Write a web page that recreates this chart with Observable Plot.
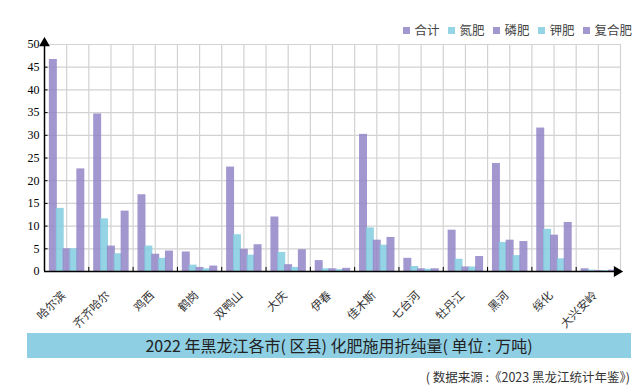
<!DOCTYPE html>
<html><head><meta charset="utf-8">
<script src="https://cdn.jsdelivr.net/npm/d3@7"></script>
<script src="https://cdn.jsdelivr.net/npm/@observablehq/plot@0.6"></script>
<style>
body{margin:0;background:#fff;width:642px;height:392px;overflow:hidden;font-family:"Noto Sans CJK SC",sans-serif;}
#legend{height:37px;display:flex;justify-content:flex-end;align-items:flex-end;padding-right:10px;box-sizing:border-box;font-size:12.5px;color:#444;line-height:14px;}
#legend .item{display:flex;align-items:center;margin-left:9px;}
#legend .sw{width:7px;height:7px;margin-right:4px;}
#chart{height:294px;}
#band{margin:2px 11px 0 27px;height:25px;background:#8ECFE4;color:#222;font-size:16px;line-height:25px;text-align:center;padding-left:20px;box-sizing:border-box;}
#caption{margin-top:11px;text-align:right;padding-right:12px;font-size:12.5px;color:#333;line-height:16px;}
</style></head>
<body>
<div id="legend"></div>
<div id="chart"></div>
<div id="band">2022 年黑龙江各市( 区县) 化肥施用折纯量( 单位 : 万吨)</div>
<div id="caption">( 数据来源 :《2023 黑龙江统计年鉴》)</div>
<script>
const cities = ["哈尔滨","齐齐哈尔","鸡西","鹤岗","双鸭山","大庆","伊春","佳木斯","七台河","牡丹江","黑河","绥化","大兴安岭"];
const seriesNames = ["合计","氮肥","磷肥","钾肥","复合肥"];
const total     = [46.7, 34.7, 16.9, 4.3, 23.0, 12.0, 2.4, 30.2, 2.9, 9.1, 23.8, 31.6, 0.6];
const nitrogen  = [13.9, 11.6, 5.6, 1.4, 8.1, 4.2, 0.6, 9.6, 1.1, 2.7, 6.4, 9.3, 0.3];
const phosphate = [5.0, 5.6, 3.8, 0.9, 4.9, 1.5, 0.6, 6.9, 0.6, 1.0, 6.9, 8.0, 0.2];
const potash    = [5.0, 3.9, 2.9, 0.6, 3.6, 0.9, 0.4, 5.8, 0.5, 1.0, 3.5, 2.8, 0.2];
const compound  = [22.6, 13.3, 4.5, 1.2, 5.9, 4.8, 0.7, 7.5, 0.6, 3.3, 6.6, 10.8, 0.3];
const yTicks = [0,5,10,15,20,25,30,35,40,45,50];

const purple = "#9385C8", blue = "#82CCE0";
const seriesColors = [purple, blue, purple, blue, purple];
const seriesValues = [total, nitrogen, phosphate, potash, compound];

// legend
const lg = document.getElementById("legend");
seriesNames.forEach((n, j) => {
  const it = document.createElement("div"); it.className = "item";
  const sw = document.createElement("div"); sw.className = "sw";
  sw.style.background = seriesColors[j]; sw.style.opacity = 0.85;
  it.appendChild(sw); it.appendChild(document.createTextNode(n));
  lg.appendChild(it);
});

const rows = seriesNames.flatMap((s, j) => cities.map((c, i) => ({city: c, i, j, series: s, value: seriesValues[j][i]})));
const barStart = 0.11, barStep = 0.155, barWidth = 0.18;

const plot = Plot.plot({
  width: 642, height: 294,
  marginTop: 7, marginBottom: 60, marginLeft: 44, marginRight: 22,
  x: {domain: [0, 13], axis: null},
  y: {domain: [0, 50], label: null},
  color: {domain: seriesNames, range: seriesColors},
  style: {fontFamily: "'Liberation Serif', serif", fontSize: "12px", color: "#000", background: "#fff"},
  marks: [
    Plot.ruleY(yTicks.slice(1), {stroke: "#d2d2d2", strokeWidth: 1.2}),
    Plot.ruleX(d3.range(1, 27).map(k => k / 2), {stroke: "#d2d2d2", strokeWidth: 1.2}),
    Plot.rectY(rows, {x1: d => d.i + barStart + d.j * barStep, x2: d => d.i + barStart + d.j * barStep + barWidth, y: "value", fill: "series", fillOpacity: 0.85}),
    Plot.ruleY(yTicks.slice(1), {x1: 0, x2: 0.08, stroke: "#000"}),
    Plot.ruleX(d3.range(1, 13), {y1: 0, y2: 0.9, stroke: "#000"}),
    Plot.ruleY([0], {x1: 0, x2: 12.95, stroke: "#000", strokeWidth: 1.5}),
    Plot.ruleX([0], {y1: 0, y2: 50, stroke: "#000", strokeWidth: 1.5}),
    Plot.dot([0], {x: () => 0, y: () => 50.3, symbol: "triangle", r: 4, fill: "#000", stroke: null}),
    Plot.dot([0], {x: () => 12.92, y: () => 0, symbol: "triangle", r: 4, fill: "#000", stroke: null, rotate: 90}),
    Plot.axisY({ticks: yTicks, tickSize: 0, tickPadding: 5, fontSize: 12, label: null}),
    Plot.text(cities, {x: (d, i) => i + 0.5, y: () => 0, text: d => d, rotate: -45, textAnchor: "end", dx: -3, dy: 22, fontSize: 11.5, fontFamily: "'Noto Sans CJK SC', sans-serif", fill: "#333"})
  ]
});
document.getElementById("chart").appendChild(plot);
</script>
</body></html>
